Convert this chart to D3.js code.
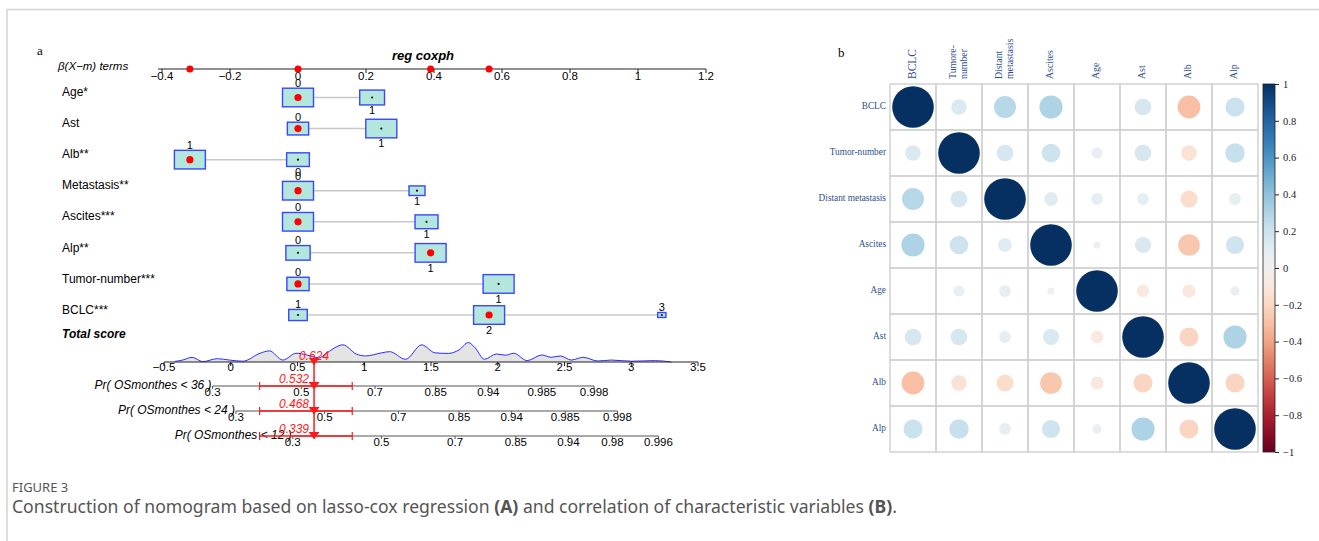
<!DOCTYPE html>
<html lang="en">
<head>
<meta charset="UTF-8">
<title>Figure 3</title>
<style>
  body { margin: 0; background: #fff; }
  svg { display: block; }
</style>
</head>
<body>
<script src="https://cdn.jsdelivr.net/npm/d3@7"></script>
<script>
// ---------- panel a : nomogram ----------
const variables = ["Age*", "Ast", "Alb**", "Metastasis**", "Ascites***", "Alp**", "Tumor-number***", "BCLC***"];
const levelNames = [["0","1"],["0","1"],["0","1"],["0","1"],["0","1"],["0","1"],["0","1"],["1","2","3"]];
const levelBeta  = [[0,0.218],[0,0.245],[0,-0.318],[0,0.35],[0,0.378],[0,0.39],[0,0.59],[0,0.562,1.07]];
const levelFreq  = [[0.61,0.39],[0.32,0.68],[0.35,0.65],[0.79,0.21],[0.645,0.355],[0.38,0.62],[0.34,0.66],[0.25,0.70,0.05]];
const selectedLevel = [0,0,1,0,0,1,0,1];
const betaTicks  = [-0.4,-0.2,0,0.2,0.4,0.6,0.8,1,1.2];
const scoreTicks = [-0.5,0,0.5,1,1.5,2,2.5,3,3.5];
const totalScore = 0.624;
const scoreCI = [0.216, 0.91];
const densScore = [-0.42,-0.36,-0.29,-0.21,-0.10,-0.01,0.09,0.22,0.29,0.39,0.49,0.57,0.66,0.72,0.84,0.94,1.01,1.13,1.19,1.31,1.43,1.53,1.63,1.71,1.78,1.83,1.90,1.99,2.06,2.12,2.22,2.33,2.40,2.47,2.55,2.64,2.75,2.85,3.00,3.18,3.30];
const densValue = [0.03,0.10,0.24,0.02,0.17,0.10,0.04,0.45,0.57,0.10,0.45,0.36,0.21,0.47,0.88,0.41,0.31,0.47,0.53,0.14,0.88,0.47,0.44,0.62,1.00,0.73,0.14,0.41,0.35,0.45,0.07,0.36,0.24,0.31,0.10,0.24,0.05,0.10,0.04,0.07,0.00];
const prLabels = ["Pr( OSmonthes < 36 )", "Pr( OSmonthes < 24 )", "Pr( OSmonthes < 12 )"];
const prOffset = [0.895, 1.07, 1.495];   // baseline hazard shift on the score scale
const prTicks = [
  [0.3,0.5,0.7,0.85,0.94,0.985,0.998],
  [0.3,0.5,0.7,0.85,0.94,0.985,0.998],
  [0.3,0.5,0.7,0.85,0.94,0.98,0.996]
];
const prValues = [0.532, 0.468, 0.339];

// ---------- panel b : correlation ----------
const corrRows = ["BCLC","Tumor-number","Distant metastasis","Ascites","Age","Ast","Alb","Alp"];
const corrCols = [["BCLC"],["Tumore-","number"],["Distant","metastasis"],["Ascites"],["Age"],["Ast"],["Alb"],["Alp"]];
const corrMatrix = [
  [ 1.00, 0.14, 0.28, 0.31, 0.00, 0.16,-0.30, 0.21],
  [ 0.14, 1.00, 0.16, 0.20, 0.07, 0.16,-0.14, 0.22],
  [ 0.28, 0.16, 1.00, 0.11, 0.08, 0.08,-0.17, 0.08],
  [ 0.31, 0.20, 0.11, 1.00, 0.03, 0.15,-0.27, 0.19],
  [ 0.00, 0.07, 0.08, 0.03, 1.00,-0.09,-0.10, 0.05],
  [ 0.16, 0.16, 0.08, 0.15,-0.09, 1.00,-0.21, 0.31],
  [-0.30,-0.14,-0.17,-0.27,-0.10,-0.21, 1.00,-0.21],
  [ 0.21, 0.22, 0.08, 0.19, 0.05, 0.31,-0.21, 1.00]
];
const colorTicks = [1,0.8,0.6,0.4,0.2,0,-0.2,-0.4,-0.6,-0.8,-1];

const W = 1319, H = 541;
const sans = "'Liberation Sans', Arial, sans-serif";
const serif = "'Liberation Serif', 'Times New Roman', serif";
const minus = s => String(s).replace("-", "\u2212");

const svg = d3.select("body").append("svg")
  .attr("width", W).attr("height", H);

svg.append("rect").attr("width", W).attr("height", H).attr("fill", "#fff");

// frame
svg.append("path")
  .attr("d", "M7,541 V9.5 H1319")
  .attr("fill", "none").attr("stroke", "#d4d4d4").attr("stroke-width", 1.5);

// ================= panel a =================
const a = svg.append("g").attr("font-family", sans);

a.append("text").attr("x", 37).attr("y", 55).attr("font-family", serif)
  .attr("font-size", 13).text("a");

const xb = d3.scaleLinear().domain([-0.4, 1.2]).range([162, 706]);
const xs = d3.scaleLinear().domain([-0.5, 3.5]).range([164, 698]);
const yRow = d3.scalePoint().domain(variables).range([97.5, 315]);
const boxW = d3.scaleSqrt().domain([0, 1]).range([0, 31]);

// title & top axis
a.append("text").attr("x", 423).attr("y", 60).attr("text-anchor", "middle")
  .attr("font-size", 13).attr("font-weight", "bold").attr("font-style", "italic")
  .text("reg coxph");
a.append("text").attr("x", 58).attr("y", 70).attr("font-size", 11.5)
  .attr("font-style", "italic").text("\u03b2(X\u2212m) terms");

const topY = 69;
a.append("line").attr("x1", xb(-0.4) - 4).attr("x2", xb(1.2))
  .attr("y1", topY).attr("y2", topY).attr("stroke", "#222").attr("stroke-width", 1);
const tTop = a.append("g").selectAll("g").data(betaTicks).join("g")
  .attr("transform", d => `translate(${xb(d)},${topY})`);
tTop.append("line").attr("y2", 4).attr("stroke", "#222");
tTop.append("text").attr("y", 10.5).attr("text-anchor", "middle").attr("font-size", 11.5)
  .text(d => minus(d));

// top red dots for selected contributions
const selBetas = Array.from(new Set(selectedLevel.map((s, i) => levelBeta[i][s])));
a.append("g").selectAll("circle").data(selBetas).join("circle")
  .attr("cx", d => xb(d)).attr("cy", topY).attr("r", 3.5).attr("fill", "#ff0000");

// rows
variables.forEach((v, i) => {
  const y = yRow(v);
  const g = a.append("g");
  g.append("text").attr("x", 62).attr("y", y - 4.5).attr("dominant-baseline", "middle")
    .attr("font-size", 12).text(v);
  const betas = levelBeta[i];
  g.append("line").attr("x1", xb(d3.min(betas))).attr("x2", xb(d3.max(betas)))
    .attr("y1", y).attr("y2", y).attr("stroke", "#c8c8c8").attr("stroke-width", 1.5);
  const fmax = d3.max(levelFreq[i]);
  const order = d3.range(betas.length).sort((p, q) => betas[p] - betas[q]);
  order.forEach((j, k) => {
    const w = boxW(levelFreq[i][j] / fmax), h = w * 0.6;
    const cx = xb(betas[j]);
    g.append("rect").attr("x", cx - w / 2).attr("y", y - h / 2)
      .attr("width", w).attr("height", h)
      .attr("fill", "#b3e6dc").attr("stroke", "#3a46ff").attr("stroke-width", 1.4);
    const sel = selectedLevel[i] === j;
    g.append("circle").attr("cx", cx).attr("cy", y).attr("r", sel ? 3.6 : 1.1)
      .attr("fill", sel ? "#ff0000" : "#111");
    const above = k % 2 === 0;
    g.append("text").attr("x", cx).attr("text-anchor", "middle").attr("font-size", 11)
      .attr("y", above ? y - h / 2 - 1.5 : y + h / 2 + 9.5)
      .text(levelNames[i][j]);
  });
});

a.append("text").attr("x", 62).attr("y", 335).attr("dominant-baseline", "middle")
  .attr("font-size", 12).attr("font-weight", "bold").attr("font-style", "italic")
  .text("Total score");

// density of total score
const axY = 362;
const yDen = d3.scaleLinear().domain([0, 1]).range([axY, axY - 19.5]);
const dens = densScore.map((s, i) => [s, densValue[i]]);
a.append("path").datum(dens)
  .attr("d", d3.area().x(d => xs(d[0])).y0(axY).y1(d => yDen(d[1])).curve(d3.curveMonotoneX))
  .attr("fill", "#e4e4e4");
a.append("path").datum(dens)
  .attr("d", d3.line().x(d => xs(d[0])).y(d => yDen(d[1])).curve(d3.curveMonotoneX))
  .attr("fill", "none").attr("stroke", "#2a2aff").attr("stroke-width", 1);

a.append("line").attr("x1", xs(-0.5)).attr("x2", xs(3.5)).attr("y1", axY).attr("y2", axY)
  .attr("stroke", "#222");
const tSc = a.append("g").selectAll("g").data(scoreTicks).join("g")
  .attr("transform", d => `translate(${xs(d)},${axY})`);
tSc.append("line").attr("y2", 4).attr("stroke", "#222");
tSc.append("text").attr("y", 5.5).attr("dominant-baseline", "middle").attr("text-anchor", "middle")
  .attr("font-size", 11.5).text(d => minus(d));

// probability axes
const prY = [386, 411, 436];
const prScore = (p, c) => Math.log(-Math.log(1 - p)) + c;
const red = "#ff1a1a";
const xT = xs(totalScore);

a.append("line").attr("x1", xT).attr("x2", xT).attr("y1", axY).attr("y2", prY[2])
  .attr("stroke", red).attr("stroke-width", 1.5);

prLabels.forEach((lab, i) => {
  const y = prY[i], c = prOffset[i];
  const ticks = prTicks[i];
  const x0 = xs(prScore(ticks[0], c)), x1 = xs(prScore(ticks[ticks.length - 1], c));
  const g = a.append("g");
  g.append("line").attr("x1", x0).attr("x2", x1).attr("y1", y).attr("y2", y)
    .attr("stroke", "#555").attr("stroke-width", 1);
  const tg = g.selectAll("g").data(ticks).join("g")
    .attr("transform", d => `translate(${xs(prScore(d, c))},${y})`);
  tg.append("line").attr("y2", 3).attr("stroke", "#555");
  tg.append("text").attr("y", 6.5).attr("dominant-baseline", "middle").attr("text-anchor", "middle")
    .attr("font-size", 11.5).text(d => d);
  g.append("text").attr("x", x0 - 1).attr("y", y + 3).attr("text-anchor", "end")
    .attr("font-size", 12).attr("font-style", "italic").text(lab);
  // interval
  g.append("line").attr("x1", xs(scoreCI[0])).attr("x2", xs(scoreCI[1])).attr("y1", y).attr("y2", y)
    .attr("stroke", red).attr("stroke-width", 1.5);
  scoreCI.forEach(s => g.append("line").attr("x1", xs(s)).attr("x2", xs(s))
    .attr("y1", y - 4).attr("y2", y + 4).attr("stroke", red).attr("stroke-width", 1.2));
  g.append("path").attr("d", `M${xT - 5.5},${y - 4} L${xT + 5.5},${y - 4} L${xT},${y + 3.5} Z`)
    .attr("fill", red);
  g.append("text").attr("x", xT - 5).attr("y", y - 3).attr("text-anchor", "end")
    .attr("font-size", 12).attr("font-style", "italic").attr("fill", red)
    .text(prValues[i].toFixed(3));
});
a.append("path").attr("d", `M${xT - 5},${axY - 4} L${xT + 5},${axY - 4} L${xT},${axY + 3.5} Z`)
  .attr("fill", red);
a.append("text").attr("x", xT).attr("y", axY - 2).attr("text-anchor", "middle")
  .attr("font-size", 12).attr("font-style", "italic").attr("fill", red)
  .text(totalScore.toFixed(3));

// ================= panel b =================
const b = svg.append("g").attr("font-family", serif);
b.append("text").attr("x", 838).attr("y", 57).attr("font-size", 13).text("b");

const gx0 = 890, gy0 = 84, cell = 46;
const xc = d3.scaleBand().domain(d3.range(8)).range([gx0, gx0 + 8 * cell]);
const yc = d3.scaleBand().domain(d3.range(8)).range([gy0, gy0 + 8 * cell]);
const rad = d3.scaleSqrt().domain([0, 1]).range([0, 20.8]);
const col = r => d3.interpolateRdBu((r + 1) / 2);
const labBlue = "#2f4f8f";

corrMatrix.forEach((row, i) => {
  row.forEach((r, j) => {
    b.append("rect").attr("x", xc(j)).attr("y", yc(i)).attr("width", cell).attr("height", cell)
      .attr("fill", "none").attr("stroke", "#d2d2d2").attr("stroke-width", 1.5);
    b.append("circle").attr("cx", xc(j) + cell / 2).attr("cy", yc(i) + cell / 2)
      .attr("r", rad(Math.abs(r))).attr("fill", col(r));
  });
});

b.append("g").selectAll("text").data(corrRows).join("text")
  .attr("x", gx0 - 4).attr("y", (d, i) => yc(i) + cell / 2)
  .attr("text-anchor", "end").attr("dominant-baseline", "middle")
  .attr("font-size", 9.3).attr("fill", labBlue).text(d => d);

corrCols.forEach((lines, j) => {
  const cx = xc(j) + cell / 2;
  const fs = j === 0 ? 11.5 : 9.8;
  lines.forEach((t, k) => {
    const off = (k - (lines.length - 1) / 2) * 10.5;
    b.append("text").attr("transform", `translate(${cx + off},79) rotate(-90)`)
      .attr("dominant-baseline", "middle").attr("font-size", fs).attr("fill", labBlue).text(t);
  });
});

// colour bar
const cbX = 1263, cbW = 12;
const yBar = d3.scaleLinear().domain([-1, 1]).range([gy0 + 8 * cell, gy0]);
const grad = svg.append("defs").append("linearGradient").attr("id", "rdbu")
  .attr("x1", 0).attr("y1", 1).attr("x2", 0).attr("y2", 0);
grad.selectAll("stop").data(d3.range(0, 1.0001, 0.05)).join("stop")
  .attr("offset", d => d).attr("stop-color", d => d3.interpolateRdBu(d));
b.append("rect").attr("x", cbX).attr("y", gy0).attr("width", cbW).attr("height", 8 * cell)
  .attr("fill", "url(#rdbu)").attr("stroke", "#222").attr("stroke-width", 0.8);
const cbAxis = b.append("g").attr("transform", `translate(${cbX + cbW},0)`)
  .call(d3.axisRight(yBar).tickValues(colorTicks).tickSize(4).tickPadding(4)
    .tickFormat(d => minus(d)));
cbAxis.select(".domain").remove();
cbAxis.selectAll("text").attr("font-family", serif).attr("font-size", 10.5).attr("fill", "#222");
cbAxis.selectAll("line").attr("stroke", "#222");

// ================= caption =================
const cap = svg.append("g").attr("font-family", "'Noto Sans', 'Open Sans', sans-serif");
cap.append("text").attr("x", 12).attr("y", 492).attr("font-size", 13).attr("fill", "#555")
  .text("FIGURE 3");
const capLine = cap.append("text").attr("x", 12).attr("y", 513).attr("font-size", 17.6).attr("fill", "#555");
capLine.append("tspan").text("Construction of nomogram based on lasso-cox regression ");
capLine.append("tspan").attr("font-weight", "bold").text("(A)");
capLine.append("tspan").text(" and correlation of characteristic variables ");
capLine.append("tspan").attr("font-weight", "bold").text("(B)");
capLine.append("tspan").text(".");
</script>
</body>
</html>
